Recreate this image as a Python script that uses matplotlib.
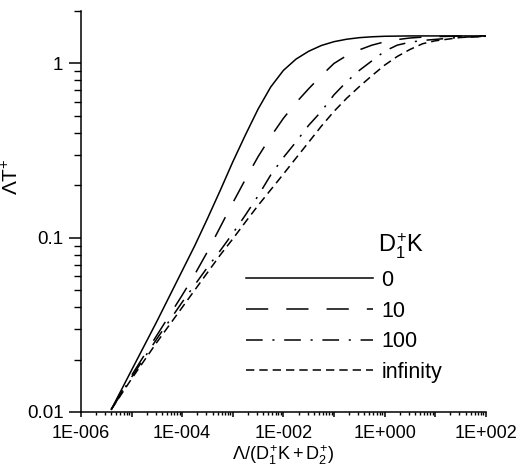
import numpy as np
import matplotlib
matplotlib.use("Agg")
import matplotlib.pyplot as plt
from matplotlib.ticker import LogLocator, FuncFormatter, NullFormatter
from matplotlib.lines import Line2D

plt.rcParams['font.family'] = ['Liberation Sans', 'DejaVu Sans']
plt.rcParams['mathtext.fontset'] = 'custom'
plt.rcParams['mathtext.rm'] = 'Liberation Sans'
plt.rcParams['mathtext.it'] = 'Liberation Sans'
plt.rcParams['mathtext.bf'] = 'Liberation Sans:bold'
plt.rcParams['lines.scale_dashes'] = False

# abscissa, log10 of Lambda/(D1K+D2)
log_x = [-5.4, -5.0, -4.5, -4.0, -3.75, -3.5, -3.25, -3.0, -2.75, -2.5,
         -2.25, -2.0, -1.75, -1.5, -1.25, -1.0, -0.75, -0.5, -0.25, 0.0,
         0.25, 0.5, 0.75, 1.0, 1.5, 2.0]

# log10 of Lambda*T+ for each D1K value
log_y_0 = [-1.985, -1.76, -1.48, -1.19, -1.045, -0.89, -0.73, -0.565, -0.41, -0.262,
           -0.135, -0.04, 0.025, 0.07, 0.103, 0.125, 0.139, 0.148, 0.153, 0.156,
           0.157, 0.158, 0.158, 0.158, 0.158, 0.158]
log_y_10 = [-1.985, -1.79, -1.56, -1.33, -1.21, -1.08, -0.94, -0.80, -0.665, -0.535,
            -0.42, -0.315, -0.225, -0.145, -0.07, 0.0, 0.045, 0.078, 0.105, 0.124,
            0.137, 0.146, 0.151, 0.154, 0.157, 0.158]
log_y_100 = [-1.985, -1.80, -1.58, -1.37, -1.27, -1.17, -1.075, -0.975, -0.87, -0.76,
             -0.64, -0.54, -0.45, -0.355, -0.275, -0.18, -0.105, -0.04, 0.015, 0.07,
             0.105, 0.122, 0.132, 0.138, 0.150, 0.156]
log_y_inf = [-1.985, -1.81, -1.60, -1.40, -1.30, -1.20, -1.10, -1.007, -0.91, -0.815,
             -0.725, -0.635, -0.543, -0.452, -0.36, -0.275, -0.20, -0.133, -0.07, -0.01,
             0.04, 0.08, 0.113, 0.13, 0.149, 0.156]

legend_labels = ['0', '10', '100', 'infinity']
x_tick_labels = ['1E-006', '1E-004', '1E-002', '1E+000', '1E+002']
y_tick_labels = ['0.01', '0.1', '1']

x = 10.0 ** np.array(log_x)
series = [10.0 ** np.array(v) for v in (log_y_0, log_y_10, log_y_100, log_y_inf)]
styles = [
    '-',
    (0, (16, 13)),
    (0, (12, 7, 1.5, 7)),
    (0, (6, 3.6)),
]

fig = plt.figure(figsize=(5.19, 4.68), dpi=100)
ax = fig.add_axes([0.156, 0.1197, 0.780, 0.8568])

for y, ls in zip(series, styles):
    ax.plot(x, y, color='black', lw=1.1, linestyle=ls)

ax.set_xscale('log')
ax.set_yscale('log')
ax.set_xlim(1e-6, 1e2)
ax.set_ylim(0.01, 2)

ax.spines['top'].set_visible(False)
ax.spines['right'].set_visible(False)
for s in ('left', 'bottom'):
    ax.spines[s].set_linewidth(1.1)

ax.xaxis.set_major_locator(LogLocator(base=10, numticks=20))
ax.xaxis.set_minor_locator(LogLocator(base=10, subs=np.arange(2, 10), numticks=200))
xlab_map = dict(zip([-6, -4, -2, 0, 2], x_tick_labels))
def fmt_x(v, pos):
    e = int(round(np.log10(v)))
    return xlab_map.get(e, '')
ax.xaxis.set_major_formatter(FuncFormatter(fmt_x))
ax.xaxis.set_minor_formatter(NullFormatter())

ax.set_yticks([0.01, 0.1, 1])
ax.set_yticklabels(y_tick_labels)
ax.yaxis.set_minor_locator(LogLocator(base=10, subs=np.arange(2, 10), numticks=200))
ax.yaxis.set_minor_formatter(NullFormatter())

ax.tick_params(axis='y', which='major', direction='out', length=8.6, width=1.1, labelsize=13.5, pad=4)
ax.tick_params(axis='y', which='minor', direction='out', length=5, width=1.0)
ax.tick_params(axis='x', which='major', direction='out', length=3.6, width=1.1, labelsize=13, pad=6)
ax.tick_params(axis='x', which='minor', direction='out', length=2.5, width=1.0)

ax.set_xlabel(r'$\Lambda/(D_1^{+}K+D_2^{+})$', fontsize=13, labelpad=1)
ax.set_ylabel(r'$\Lambda\overline{T}^{+}$', fontsize=15)
ax.yaxis.set_label_coords(-0.145, 0.586)

handles = [Line2D([], [], color='black', lw=1.1, linestyle=ls) for ls in styles]
leg = ax.legend(handles, legend_labels, loc='lower right',
                bbox_to_anchor=(0.94, 0.024), frameon=False, fontsize=15.5,
                handlelength=5.9, handletextpad=0.4, labelspacing=0.45)
ax.text(0.733, 0.398, r'$D_1^{+}K$', transform=ax.transAxes, fontsize=17,
        ha='left', va='baseline')

fig.savefig('out.png', dpi=100)
